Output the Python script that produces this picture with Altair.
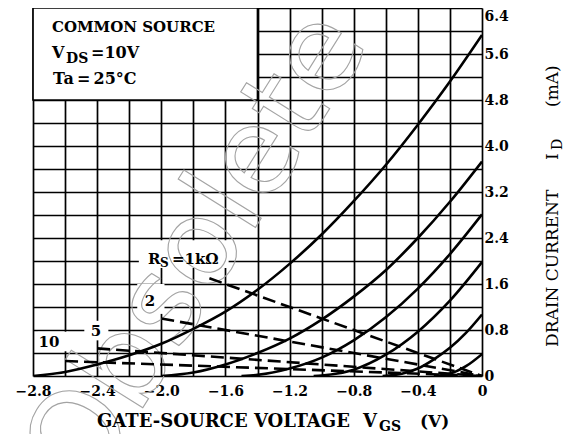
import json
import altair as alt
import pandas as pd

SERIF = "DejaVu Serif"

# ---------------- data ----------------
vgs_grid = [-2.8, -2.6, -2.4, -2.2, -2.0, -1.8, -1.6, -1.4, -1.2, -1.0, -0.8, -0.6, -0.4, -0.2, 0.0]
id_grid = [0.0, 0.4, 0.8, 1.2, 1.6, 2.0, 2.4, 2.8, 3.2, 3.6, 4.0, 4.4, 4.8, 5.2, 5.6, 6.0, 6.4]

x_tick_vals = [-2.8, -2.4, -2.0, -1.6, -1.2, -0.8, -0.4, 0.0]
x_tick_text = ["\u22122.8", "\u22122.4", "\u22122.0", "\u22121.6", "\u22121.2", "\u22120.8", "\u22120.4", "0"]
y_tick_vals = [0.0, 0.8, 1.6, 2.4, 3.2, 4.0, 4.8, 5.6, 6.4]
y_tick_text = ["0", "0.8", "1.6", "2.4", "3.2", "4.0", "4.8", "5.6", "6.4"]

# solid transfer curves (VGS in V, ID in mA)
c1_v = [-2.8, -2.6, -2.4, -2.2, -2.0, -1.8, -1.6, -1.4, -1.2, -1.0, -0.8, -0.6, -0.4, -0.2, 0.0]
c1_i = [0.0, 0.07, 0.2, 0.36, 0.56, 0.82, 1.12, 1.5, 1.95, 2.46, 3.04, 3.67, 4.37, 5.12, 5.93]
c2_v = [-2.0, -1.8, -1.6, -1.4, -1.2, -1.0, -0.8, -0.6, -0.4, -0.2, 0.0]
c2_i = [0.0, 0.06, 0.2, 0.4, 0.65, 0.98, 1.38, 1.84, 2.4, 3.03, 3.73]
c3_v = [-1.5, -1.4, -1.2, -1.0, -0.8, -0.6, -0.4, -0.2, 0.0]
c3_i = [0.0, 0.02, 0.13, 0.32, 0.62, 1.02, 1.52, 2.12, 2.81]
c4_v = [-1.05, -1.0, -0.8, -0.6, -0.4, -0.2, 0.0]
c4_i = [0.0, 0.01, 0.11, 0.37, 0.77, 1.31, 1.98]
c5_v = [-0.62, -0.5, -0.4, -0.3, -0.2, -0.1, 0.0]
c5_i = [0.0, 0.04, 0.13, 0.29, 0.49, 0.75, 1.07]
c6_v = [-0.3, -0.2, -0.1, 0.0]
c6_i = [0.0, 0.04, 0.17, 0.38]

# dashed source-resistor load lines (start point -> origin)
rs_names = ["1k", "2k", "5k", "10k"]
rs_start_v = [-1.7, -2.0, -2.4, -2.6]
rs_start_i = [1.7, 1.0, 0.48, 0.26]
rs_end_v = [0.0, 0.0, 0.0, 0.0]
rs_end_i = [0.0, 0.0, 0.0, 0.0]

# ---------------- tables ----------------
rows = []
for name, vv, ii in [("c1", c1_v, c1_i), ("c2", c2_v, c2_i), ("c3", c3_v, c3_i),
                     ("c4", c4_v, c4_i), ("c5", c5_v, c5_i), ("c6", c6_v, c6_i)]:
    for k, (a, b) in enumerate(zip(vv, ii)):
        rows.append({"s": name, "v": a, "i": b, "o": k})
curves = pd.DataFrame(rows)

drows = []
for n, sv, si, ev, ei in zip(rs_names, rs_start_v, rs_start_i, rs_end_v, rs_end_i):
    drows.append({"s": n, "v": sv, "i": si, "o": 0})
    drows.append({"s": n, "v": ev, "i": ei, "o": 1})
dashes = pd.DataFrame(drows)

W, H = 449, 368
xs = alt.Scale(domain=[-2.8, 0.0], nice=False, zero=False)
ys = alt.Scale(domain=[0.0, 6.4], nice=False, zero=False)


def lookup_expr(vals, texts):
    v = json.dumps(vals)
    t = json.dumps(texts, ensure_ascii=False)
    return (f"indexof({v}, round(datum.value*10)/10) >= 0 ? "
            f"{t}[indexof({v}, round(datum.value*10)/10)] : ''")


x_axis = alt.Axis(values=vgs_grid, grid=True, gridColor="black", gridWidth=1.7, gridOpacity=1,
                  ticks=False, domain=False, title=None, labelExpr=lookup_expr(x_tick_vals, x_tick_text),
                  labelFont=SERIF, labelFontWeight="bold", labelFontSize=14, labelColor="black",
                  labelPadding=8, labelOverlap=False, labelFlush=False, labelBound=False)
y_axis = alt.Axis(values=id_grid, grid=True, gridColor="black", gridWidth=1.7, gridOpacity=1,
                  orient="right", ticks=False, domain=False, title=None,
                  labelExpr=lookup_expr(y_tick_vals, y_tick_text),
                  labelOffset={"condition": {"test": "datum.value > 6.3", "value": 8}, "value": 0},
                  labelFont=SERIF, labelFontWeight="bold", labelFontSize=14, labelColor="black",
                  labelPadding=2, labelAlign="left", labelOverlap=False, labelFlush=False, labelBound=False)

X = alt.X("v:Q", scale=xs, axis=x_axis)
Y = alt.Y("i:Q", scale=ys, axis=y_axis)

# white backgrounds behind curve labels (V1, V2, I1, I2)
bg = pd.DataFrame({
    "v": [-2.14, -2.15, -2.48, -2.77],
    "v2": [-1.58, -1.98, -2.33, -2.58],
    "i": [1.88, 1.08, 0.62, 0.43],
    "i2": [2.36, 1.6, 0.96, 0.77],
})
bg_layer = alt.Chart(bg).mark_rect(color="white").encode(
    x=X, x2="v2:Q", y=Y, y2="i2:Q")

box = pd.DataFrame({"v": [-2.8], "v2": [-1.4], "i": [4.8], "i2": [6.4]})
box_layer = alt.Chart(box).mark_rect(fill="white", stroke="black", strokeWidth=1.7).encode(
    x=X, x2="v2:Q", y=Y, y2="i2:Q")

wm = pd.DataFrame({"v": [-1.77], "i": [2.17], "t": ["Obsolete"]})
wm_layer = alt.Chart(wm).mark_text(font="DejaVu Sans", fontSize=120, angle=302,
                                   fillOpacity=0, stroke="#a3a3a3", strokeWidth=1.1,
                                   align="center", baseline="middle").encode(
    x=X, y=Y, text="t:N")

curve_layer = alt.Chart(curves).mark_line(color="black", strokeWidth=2.6,
                                          interpolate="monotone", clip=True).encode(
    x=X, y=Y, detail="s:N", order="o:Q")

dash_layer = alt.Chart(dashes).mark_line(color="black", strokeWidth=2.6,
                                         strokeDash=[13, 6], clip=True).encode(
    x=X, y=Y, detail="s:N", order="o:Q")


def data_text(v, i, t, size=15, weight="bold", dx=0, dy=0, align="left"):
    return alt.Chart(pd.DataFrame({"v": [v], "i": [i], "t": [t]})).mark_text(
        font=SERIF, fontSize=size, fontWeight=weight, color="black", align=align,
        baseline="middle", dx=dx, dy=dy).encode(x=X, y=Y, text="t:N")


def px_text(x, y, t, size=16, weight="bold", dx=0, dy=0, align="left", angle=0):
    kw = dict(font=SERIF, fontSize=size, fontWeight=weight, color="black", align=align,
              baseline="middle", dx=dx, dy=dy)
    if angle:
        kw["angle"] = angle
    return alt.Chart(pd.DataFrame({"t": [t]})).mark_text(**kw).encode(
        x=alt.value(x), y=alt.value(y), text="t:N")


labels = [
    data_text(-2.083, 2.03, "R", size=15),
    data_text(-2.083, 2.03, "S", size=12, dx=12, dy=4),
    data_text(-2.083, 2.03, "=1k\u03a9", size=15, dx=24),
    data_text(-2.07, 1.31, "2", size=15, align="center"),
    data_text(-2.407, 0.78, "5", size=15, align="center"),
    data_text(-2.70, 0.60, "10", size=15, align="center"),
]

texts = [
    px_text(19, 19, "COMMON SOURCE", size=15),
    px_text(19, 45, "V", size=16),
    px_text(33, 51, "DS", size=14),
    px_text(58, 45, "=10V", size=16),
    px_text(20, 71, "Ta\u2009=\u200925\u00b0C", size=16),
    # x title
    px_text(64, 414, "GATE-SOURCE VOLTAGE", size=18),
    px_text(330, 414, "V", size=18),
    px_text(346, 419, "GS", size=14),
    px_text(387, 414, "(V)", size=17),
    # y title (rotated)
    px_text(520, 339, "DRAIN CURRENT", size=17, weight="normal", angle=270),
    px_text(520, 152, "I", size=17, weight="normal", angle=270),
    px_text(520, 142, "D", size=14, weight="normal", angle=270, dy=5),
    px_text(520, 99, "(mA)", size=17, weight="normal", angle=270),
]

chart = alt.layer(bg_layer, box_layer, wm_layer, curve_layer, dash_layer, *labels, *texts).properties(
    width=W, height=H,
    autosize=alt.AutoSizeParams(type="none"),
    padding={"left": 25, "top": 0, "right": 83, "bottom": 58},
).configure_view(stroke="black", strokeWidth=2.6).configure(background="white")

chart.save("out.html", embed_options={"renderer": "svg", "actions": False})
